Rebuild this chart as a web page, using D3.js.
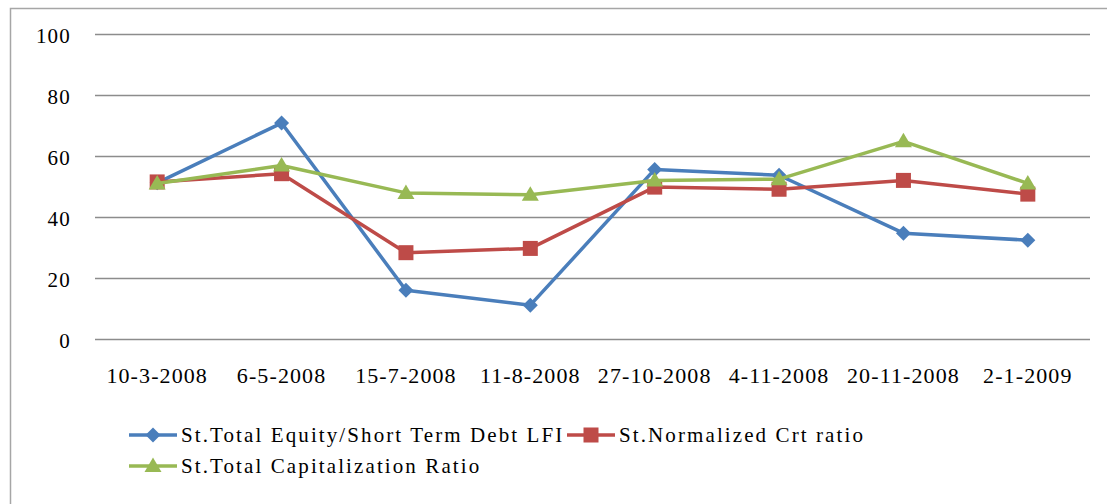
<!DOCTYPE html>
<html>
<head>
<meta charset="utf-8">
<script src="https://cdn.jsdelivr.net/npm/d3@7"></script>
<style>
  html, body { margin: 0; padding: 0; background: #fff; }
  svg { display: block; }
</style>
</head>
<body>
<svg id="chart" width="1107" height="504"></svg>
<script>
// Dates on the horizontal axis
const categories = ["10-3-2008", "6-5-2008", "15-7-2008", "11-8-2008", "27-10-2008", "4-11-2008", "20-11-2008", "2-1-2009"];

// Series values
const equityDebt = [51.2, 70.8, 16.0, 11.1, 55.6, 53.7, 34.7, 32.4];
const normalizedCrt = [51.5, 54.2, 28.3, 29.7, 49.8, 49.1, 52.0, 47.5];
const totalCapitalization = [51.0, 56.9, 47.9, 47.3, 52.0, 52.4, 64.8, 51.0];

const seriesNames = ["St.Total Equity/Short Term Debt LFI", "St.Normalized Crt ratio", "St.Total Capitalization Ratio"];
const yTicks = [0, 20, 40, 60, 80, 100];

const series = [
  { name: seriesNames[0], values: equityDebt, color: "#4A7EBB", marker: "diamond" },
  { name: seriesNames[1], values: normalizedCrt, color: "#BE4B48", marker: "square" },
  { name: seriesNames[2], values: totalCapitalization, color: "#98B954", marker: "triangle" }
];

const svg = d3.select("#chart");
const W = 1107, H = 504;
const plot = { left: 95, right: 1090, top: 34, bottom: 339 };
const FONT = "Liberation Serif";

// chart frame (top and left edges visible)
svg.append("path")
  .attr("d", `M10.5,${H} L10.5,8.5 L${W},8.5`)
  .attr("fill", "none").attr("stroke", "#a6a6a6").attr("stroke-width", 1.5);

const x = d3.scaleBand().domain(categories).range([plot.left, plot.right]);
const y = d3.scaleLinear().domain([0, 100]).range([plot.bottom, plot.top]);

// horizontal gridlines with value labels
const yAxis = d3.axisLeft(y).tickValues(yTicks).tickSize(-(plot.right - plot.left)).tickPadding(20);
const gy = svg.append("g").attr("transform", `translate(${plot.left},0)`).call(yAxis);
gy.attr("font-family", FONT);
gy.select(".domain").remove();
gy.selectAll(".tick line").attr("stroke", "#8c8c8c").attr("stroke-width", 1.3);
gy.selectAll(".tick text")
  .attr("font-size", 21).attr("fill", "#000")
  .attr("letter-spacing", 1.2)
  .attr("x", -24).attr("dy", "0.42em");

// date labels under the plot
const xAxis = d3.axisBottom(x).tickSize(0).tickPadding(28);
const gx = svg.append("g").attr("transform", `translate(0,${plot.bottom})`).call(xAxis);
gx.attr("font-family", FONT);
gx.select(".domain").remove();
gx.selectAll(".tick text")
  .attr("font-size", 22).attr("fill", "#000")
  .attr("letter-spacing", 1.1);

const cx = c => x(c) + x.bandwidth() / 2;

function drawMarker(g, type, px, py, color) {
  if (type === "diamond") {
    g.append("path")
      .attr("d", `M${px},${py - 7.5} L${px + 7.5},${py} L${px},${py + 7.5} L${px - 7.5},${py} Z`)
      .attr("fill", color);
  } else if (type === "square") {
    g.append("rect").attr("x", px - 7.5).attr("y", py - 7.5).attr("width", 15).attr("height", 15)
      .attr("fill", color);
  } else {
    g.append("path")
      .attr("d", `M${px},${py - 8.5} L${px + 8.5},${py + 6} L${px - 8.5},${py + 6} Z`)
      .attr("fill", color);
  }
}

const line = d3.line().x((d, i) => cx(categories[i])).y(d => y(d));

series.forEach(s => {
  const g = svg.append("g");
  g.append("path").datum(s.values).attr("d", line)
    .attr("fill", "none").attr("stroke", s.color).attr("stroke-width", 3.5)
    .attr("stroke-linejoin", "round");
  s.values.forEach((v, i) => drawMarker(g, s.marker, cx(categories[i]), y(v), s.color));
});

// legend
const legendItems = [
  { s: series[0], x: 129, y: 435 },
  { s: series[1], x: 567, y: 435 },
  { s: series[2], x: 129, y: 466 }
];
legendItems.forEach(it => {
  const g = svg.append("g");
  g.append("line").attr("x1", it.x).attr("x2", it.x + 48).attr("y1", it.y).attr("y2", it.y)
    .attr("stroke", it.s.color).attr("stroke-width", 3.5);
  drawMarker(g, it.s.marker, it.x + 24, it.y, it.s.color);
  g.append("text").attr("x", it.x + 52).attr("y", it.y + 7)
    .attr("font-family", FONT).attr("font-size", 21)
    .attr("letter-spacing", 2.1).attr("fill", "#000")
    .text(it.s.name);
});
</script>
</body>
</html>
